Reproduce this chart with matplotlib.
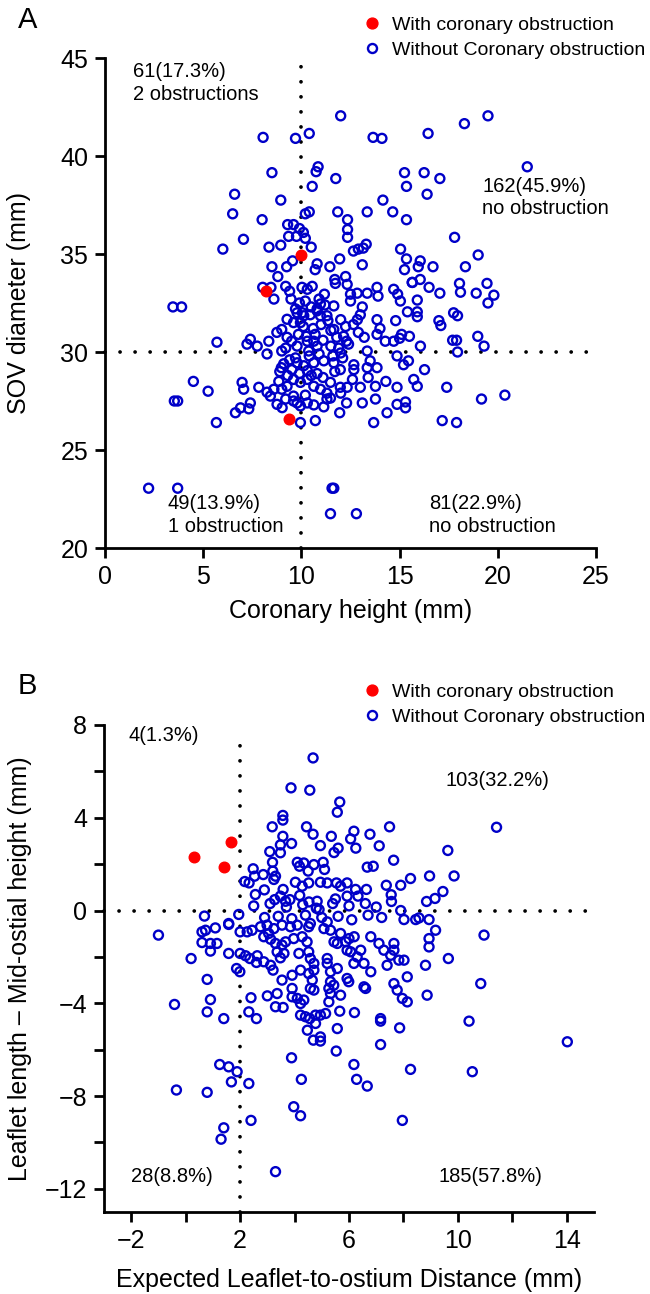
import matplotlib
matplotlib.use("Agg")
import matplotlib.pyplot as plt
from matplotlib.lines import Line2D
from matplotlib.ticker import MultipleLocator

plt.rcParams['font.family'] = ['Liberation Sans', 'DejaVu Sans']

# ---------------- Panel A data ----------------
a_without_x = [
    12.0, 19.5, 18.3, 8.05, 9.7, 10.4, 13.65, 14.1, 16.45, 21.5, 8.5, 10.85, 10.75, 11.75, 15.25, 16.25, 17.05,
    10.55, 15.35, 6.6, 16.4, 8.95, 14.15, 6.5, 10.2, 10.4, 11.85, 13.35, 14.65, 8.0, 12.35, 15.35, 17.8, 12.35,
    12.35, 9.3, 9.6, 9.9, 10.1, 9.35, 9.75, 10.2, 7.05, 6.0, 8.35, 8.95, 10.5, 12.65, 12.9, 13.15, 13.3, 15.05,
    19.0, 9.55, 11.95, 13.1, 15.35, 16.05, 8.5, 9.25, 10.8, 10.7, 11.45, 15.95, 16.7, 15.25, 18.35, 8.8, 12.25,
    11.7, 15.65, 16.05, 18.05, 19.45,
    8.03, 8.45, 8.6, 9.2, 9.4, 9.47, 10.03, 10.3, 10.55, 11.17, 11.73, 12.33, 12.5, 12.84, 13.35, 13.85, 13.9,
    14.7, 14.9, 15.04, 15.64, 15.9, 16.5, 17.05, 18.1, 18.9, 19.5, 19.8, 3.46, 3.9, 17.75, 17.95, 17.0, 17.1,
    17.7, 17.9, 18.98, 19.3, 17.95, 16.06, 15.5, 15.9, 15.9, 15.4, 14.8, 13.85, 13.85, 14.27, 14.7, 15.1, 15.0,
    13.2, 13.35, 12.85, 13.0, 12.65, 12.15, 12.3, 11.65, 11.8, 11.5, 12.0, 10.97, 11.3, 10.8, 10.97, 11.65,
    12.0, 12.25, 9.78, 10.12, 9.95, 9.6, 9.27, 9.0, 8.75, 9.27, 9.5, 9.78, 10.3, 10.63, 10.8, 10.37, 8.34, 8.25,
    7.75, 7.4, 7.23, 9.0, 9.2, 5.7, 4.5, 5.25, 6.98, 7.06, 7.83, 8.25, 8.6, 8.85, 9.0, 9.27, 9.78, 9.52, 10.12,
    10.3, 10.63, 11.14, 11.65, 11.98, 12.67, 12.67, 13.35, 13.5, 13.85, 8.98, 14.87, 15.2, 15.45, 16.27, 9.6,
    9.95, 10.3, 10.63, 10.97, 11.48, 11.98, 12.33, 13.0, 13.77, 14.87, 15.72, 15.9, 17.4, 19.17, 20.36, 3.53,
    3.7, 6.64, 6.9, 7.4, 7.32, 8.42, 8.76, 9.02, 9.2, 9.6, 9.78, 9.95, 10.3, 10.63, 11.3, 11.14, 11.48, 11.95,
    12.3, 13.1, 13.77, 14.36, 14.87, 15.3, 15.3, 13.68, 17.17, 17.9, 5.67, 9.95, 10.71, 2.22, 3.7, 11.56, 11.65,
    11.48, 12.8,
    9.9, 10.2, 10.5, 10.9, 11.2, 9.7, 10.05, 10.45, 10.8, 11.35, 10.1, 10.6, 11.0, 11.5, 9.85, 10.25, 10.7,
    11.1, 9.7, 10.4, 11.9, 12.4, 12.1, 11.6, 10.9, 9.4, 9.1, 8.9, 9.9, 10.5, 11.1, 12.6, 13.4, 14.3, 12.0,
    11.3, 10.2, 9.6, 9.3, 10.8, 11.7, 12.9, 14.0, 13.1, 12.5,
]
a_without_y = [
    42.05, 42.05, 41.65, 40.95, 40.9, 41.15, 40.95, 40.9, 41.15, 39.45, 39.15, 39.45, 39.2, 38.85, 39.15, 39.15,
    38.85, 38.45, 38.45, 38.05, 38.05, 37.75, 37.75, 37.05, 37.05, 37.15, 37.15, 37.15, 37.15, 36.75, 36.75,
    36.75, 35.85, 36.25, 35.85, 36.5, 36.5, 36.3, 36.1, 35.9, 35.9, 35.8, 35.75, 35.25, 35.35, 35.45, 35.35,
    35.15, 35.25, 35.3, 35.5, 35.25, 34.95, 34.65, 34.75, 34.45, 34.75, 34.65, 34.35, 34.35, 34.5, 34.2, 34.35,
    34.35, 34.35, 34.2, 34.35, 33.85, 33.85, 33.7, 33.55, 33.7, 33.5, 33.5,
    33.3, 33.3, 32.7, 33.35, 33.1, 32.7, 33.3, 33.2, 33.35, 32.95, 33.5, 33.45, 32.95, 33.0, 33.0, 33.3, 32.85,
    33.2, 32.95, 32.6, 33.55, 32.65, 33.3, 33.0, 33.05, 33.0, 32.5, 32.9, 32.3, 32.3, 32.0, 31.85, 31.6, 31.35,
    30.6, 30.6, 30.8, 30.3, 30.0, 30.3, 30.8, 32.05, 31.8, 32.05, 31.6, 31.65, 30.9, 30.55, 30.55, 30.9, 30.7,
    30.75, 30.05, 31.65, 31.9, 31.4, 30.8, 30.55, 31.15, 30.75, 30.3, 29.95, 31.85, 31.85, 32.2, 32.45, 32.35,
    31.65, 31.3, 32.0, 31.85, 31.5, 31.5, 31.67, 31.15, 31.0, 30.75, 30.55, 30.3, 30.55, 30.55, 30.3, 30.05,
    30.55, 29.9, 30.3, 30.65, 30.4, 30.05, 30.2, 30.5, 28.5, 28.0, 28.45, 28.1, 28.2, 27.95, 28.1, 28.5, 28.1,
    28.25, 29.45, 29.1, 29.3, 29.05, 29.45, 29.55, 29.45, 29.1, 29.35, 29.1, 29.2, 29.55, 29.2, 29.2, 29.8,
    29.35, 29.55, 29.1, 28.6, 28.45, 28.6, 28.25, 28.1, 28.45, 28.2, 28.2, 28.2, 28.25, 28.2, 28.6, 28.25,
    28.2, 27.6, 27.8, 27.5, 27.5, 26.9, 27.15, 27.4, 27.1, 27.75, 27.33, 27.16, 27.6, 27.75, 27.4, 27.25,
    27.4, 27.3, 27.6, 27.2, 27.65, 26.9, 27.4, 27.4, 27.6, 26.9, 27.33, 27.45, 27.15, 26.4, 26.5, 26.4, 26.4,
    26.4, 26.5, 23.05, 23.05, 23.05, 23.05, 21.75, 21.75,
    32.5, 32.6, 32.3, 32.7, 32.4, 32.2, 32.0, 31.9, 32.1, 31.6, 31.3, 31.2, 31.4, 31.1, 30.9, 30.8, 30.9,
    30.6, 29.7, 29.8, 30.2, 30.4, 29.7, 29.8, 29.9, 29.6, 29.4, 29.0, 28.9, 28.8, 28.7, 28.6, 28.7, 28.5, 27.9,
    27.9, 27.8, 27.5, 28.8, 28.9, 29.0, 31.0, 31.2, 32.3, 32.6,
]
a_with_x = [10.0, 8.2, 9.35]
a_with_y = [34.95, 33.1, 26.56]

# ---------------- Panel B data ----------------
b_without_x = [
    4.68, 3.87, 4.56, 5.66, 5.57, 3.57, 3.57, 3.18, 4.44, 4.68, 3.57, 3.89, 3.48, 3.48, 3.09, 4.95, 5.35, 6.18,
    6.06, 5.45, 5.6, 6.25, 6.77, 7.11, 7.49, 7.64, 11.42, 9.63, 9.86, 8.26, 8.96, 9.45, 9.16, 8.85, 7.9, 7.37,
    7.55, 7.56, 6.67, 6.89, 3.19, 3.2, 2.48, 2.53, 2.85, 2.17, 2.33, 2.56, 2.89, 3.24, 3.3, 3.58, 3.48, 3.83,
    3.27, 3.67, 4.1, 4.34, 4.18, 4.5, 4.71, 5.05, 5.1, 4.03, 4.28, 4.52, 4.95, 5.2, 5.54, 5.69, 5.93, 6.24,
    6.64, 6.33, 5.93, 5.5, 4.83, 4.9, 4.53, 4.19, 1.58, 0.69, 1.95, 7.9, 8.02, 8.45, 8.57, 8.94,
    -1.0, 0.2, -0.41, -0.34, 0.79, 0.91, 0.79, 0.79, 0.6, 0.73, 1.09, 0.6, 0.91, 1.15, 0.91, 1.58, 1.58, 1.4,
    1.25, 1.58, 1.89, 1.68, 2.32, 1.4, 1.3, 2.4, 3.3, 1.87, 1.99, 2.0, 2.2, 2.36, 2.63, 2.6, 2.87, 3.12, 3.21,
    2.4, 2.32, 2.6, 3.0, 3.36, 3.3, 3.58, 2.0, 2.26, 2.44, 2.75, 2.99, 3.24, 3.54, 3.85, 4.1, 4.52, 4.58, 2.87,
    3.12, 3.3, 3.54, 3.05, 3.67, 3.97, 4.46, 4.28, 3.36, 3.61, 3.48, 4.16, 4.52, 4.58, 4.71, 3.91, 4.22, 4.52,
    4.71, 3.54, 4.65, 3.91, 3.91, 4.1, 4.22, 4.34, 4.58, 4.71, 4.22, 4.4, 4.56, 4.77, 4.95, 4.77, 4.47, 4.69,
    4.95, 4.95, 5.2, 5.2, 5.32, 5.57, 5.32, 5.44, 5.26, 5.32, 5.69, 5.26, 5.14, 5.57, 5.66, 6.2, 5.53, 5.08,
    5.32, 5.2, 5.69, 5.45, 5.57, 5.88, 6.0, 6.19, 5.93, 6.06, 6.43, 6.3, 6.18, 6.55, 5.93, 5.99, 6.55, 6.61,
    6.8, 6.8, 7.1, 7.28, 7.4, 7.53, 7.65, 7.65, 7.83, 8.02, 8.14, 7.65, 7.77, 7.96, 8.14, 8.81, 8.87, 8.94,
    8.94, 9.18, 7.16, 7.16, 7.16, 7.86, 6.18, 6.28, 6.67, 8.26, 7.96, 3.89, 4.25, 3.97, 4.22, 9.65, 10.84,
    10.41, 10.53, 10.96, 14.02,
    2.9, 3.4, 3.9, 4.4, 5.0, 5.6, 6.1, 6.7, 7.2, 2.5, 3.1, 3.7, 4.3, 4.8, 5.4, 6.0, 6.6, 7.0,
]
b_without_y = [
    6.58, 5.29, 5.19, 4.68, 4.24, 4.1, 3.9, 3.61, 3.61, 3.29, 3.2, 2.89, 2.83, 2.49, 2.54, 2.8, 3.2, 3.42, 3.09,
    2.5, 2.69, 2.69, 3.29, 2.79, 3.61, 2.17, 3.59, 2.59, 1.49, 1.38, 1.49, 0.82, 0.52, 0.39, 1.09, 1.09, 0.68,
    0.39, 1.87, 1.91, 2.08, 1.7, 1.8, 1.48, 1.55, 1.25, 1.19, 0.69, 0.89, 1.34, 1.48, 0.91, 0.62, 0.47, 0.47,
    0.4, 2.08, 2.05, 1.91, 1.7, 1.98, 2.08, 1.77, 1.22, 1.05, 1.19, 1.22, 1.19, 1.19, 1.05, 1.19, 0.91, 0.91,
    0.62, 0.62, 0.5, 0.4, 0.04, 0.37, 0.65, -0.6, -0.24, -0.17, 0.0, -0.39, -0.39, -0.32, -0.39,
    -1.06, -2.07, -4.05, -7.74, -2.97, -3.84, -4.37, -7.84, -0.92, -0.85, -0.75, -1.38, -1.42, -1.42, -1.75,
    -0.56, -1.85, -4.66, -6.64, -6.74, -6.95, -7.39, -7.46, -9.37, -9.86, -9.05, -11.26, -2.5, -2.64, -1.85,
    -1.95, -2.07, -1.95, -2.24, -2.21, -2.36, -2.57, -3.76, -4.37, -4.66, -3.68, -3.58, -4.15, -4.18, -0.92,
    -0.92, -0.85, -0.7, -0.63, -0.78, -0.63, -0.7, -0.63, -0.7, -0.56, -1.13, -1.24, -1.42, -1.49, -0.99,
    -1.35, -1.21, -1.35, -1.13, -1.78, -1.85, -2.04, -1.85, -1.78, -2.07, -2.28, -2.79, -2.57, -2.72, -2.57,
    -3.0, -3.0, -3.36, -3.72, -3.79, -4.01, -3.86, -3.36, -3.43, -4.51, -4.58, -4.66, -4.51, -4.51, -4.87,
    -5.16, -5.59, -5.45, -5.63, -2.07, -2.28, -2.64, -2.5, -3.07, -3.22, -3.36, -3.58, -3.65, -3.94, -4.44,
    -5.09, -4.34, -4.4, -6.06, -0.78, -0.85, -0.49, -0.99, -1.35, -1.42, -1.35, -1.21, -1.13, -1.71, -1.78,
    -1.71, -2.0, -2.28, -2.28, -2.93, -3.07, -3.29, -3.36, -2.64, -1.13, -1.42, -1.71, -2.36, -1.93, -1.71,
    -1.42, -2.14, -2.14, -2.86, -3.15, -3.43, -3.79, -3.94, -2.36, -3.65, -1.21, -1.57, -0.85, -4.66, -4.77,
    -5.78, -5.06, -6.64, -7.28, -7.57, -6.85, -9.05, -6.35, -7.28, -8.46, -8.85, -2.07, -3.15, -4.77, -6.95,
    -1.06, -5.66,
    -0.3, -0.25, -0.35, -0.2, -0.3, -0.25, -0.4, -0.2, -0.3, 0.2, 0.3, 0.15, 0.25, 0.1, 0.3, 0.2, 0.3, 0.15,
]
b_with_x = [0.32, 1.4, 1.65]
b_with_y = [2.3, 1.88, 2.97]

BLUE = '#0000C8'
RED = '#FF0000'
TICK_FS = 18
LABEL_FS = 18
ANN_FS = 14.5
LEG_FS = 14
S_OPEN = 42
LW_OPEN = 1.7

W, H = 650, 1294
fig = plt.figure(figsize=(W / 100, H / 100), dpi=100)


def px_box(l, r, t, b):
    return [l / W, 1 - b / H, (r - l) / W, (b - t) / H]


def style_axes(ax):
    for s in ('top', 'right'):
        ax.spines[s].set_visible(False)
    for s in ('left', 'bottom'):
        ax.spines[s].set_linewidth(2.0)
    ax.tick_params(which='both', direction='out', length=7, width=2.0, labelsize=TICK_FS, pad=5)


def dotted(ax, xs, ys):
    ax.plot(xs, ys, color='black', lw=2.7, linestyle=(0, (0.01, 4.0)),
            dash_capstyle='round', zorder=1, clip_on=False)


def legend(ax, ycenter_px):
    handles = [
        Line2D([], [], marker='o', ls='none', markersize=7.8, markerfacecolor=RED, markeredgecolor=RED),
        Line2D([], [], marker='o', ls='none', markersize=6.5, markerfacecolor='none',
               markeredgecolor=BLUE, markeredgewidth=LW_OPEN),
    ]
    ax.legend(handles, ['With coronary obstruction', 'Without Coronary obstruction'],
              loc='center left', bbox_to_anchor=(362 / W, 1 - ycenter_px / H),
              bbox_transform=fig.transFigure, frameon=False, fontsize=LEG_FS,
              handlelength=1.0, handletextpad=0.55, labelspacing=0.35,
              borderpad=0, borderaxespad=0)


# ---------------- Panel A ----------------
axA = fig.add_axes(px_box(105, 596, 58, 548))
style_axes(axA)
axA.set_xlim(0, 25)
axA.set_ylim(20, 45)
axA.xaxis.set_major_locator(MultipleLocator(5))
axA.yaxis.set_major_locator(MultipleLocator(5))
dotted(axA, [10, 10], [20, 44.6])
dotted(axA, [0, 25], [30, 30])
axA.scatter(a_without_x, a_without_y, s=S_OPEN, facecolors='none', edgecolors=BLUE, linewidths=LW_OPEN, zorder=3)
axA.scatter(a_with_x, a_with_y, s=58, color=RED, zorder=4)
axA.set_xlabel('Coronary height (mm)', fontsize=LABEL_FS)
axA.set_ylabel('SOV diameter (mm)', fontsize=LABEL_FS)
axA.xaxis.set_label_coords(0.5, -0.105)
axA.yaxis.set_label_coords(-0.15, 0.5)
axA.text(1.43, 44.8, '61(17.3%)\n2 obstructions', fontsize=ANN_FS, va='top', ha='left', linespacing=1.25)
axA.text(19.2, 38.95, '162(45.9%)\nno obstruction', fontsize=ANN_FS, va='top', ha='left', linespacing=1.25)
axA.text(3.2, 22.75, '49(13.9%)\n1 obstruction', fontsize=ANN_FS, va='top', ha='left', linespacing=1.25)
axA.text(16.5, 22.75, '81(22.9%)\nno obstruction', fontsize=ANN_FS, va='top', ha='left', linespacing=1.25)
legend(axA, 37.5)
fig.text(18 / W, 1 - 20 / H, 'A', fontsize=21, va='center', ha='left')

# ---------------- Panel B ----------------
axB = fig.add_axes(px_box(104, 594, 725, 1212))
style_axes(axB)
axB.set_xlim(-3, 15)
axB.set_ylim(-13, 8)
axB.set_xticks([-2, 2, 6, 10, 14])
axB.set_xticks([0, 4, 8, 12], minor=True)
axB.set_yticks([-12, -8, -4, 0, 4, 8])
axB.set_yticks([-10, -6, -2, 2, 6], minor=True)
dotted(axB, [2, 2], [-13, 7.6])
dotted(axB, [-3, 15], [0, 0])
axB.scatter(b_without_x, b_without_y, s=S_OPEN, facecolors='none', edgecolors=BLUE, linewidths=LW_OPEN, zorder=3)
axB.scatter(b_with_x, b_with_y, s=58, color=RED, zorder=4)
axB.set_xlabel('Expected Leaflet-to-ostium Distance (mm)', fontsize=LABEL_FS)
axB.set_ylabel('Leaflet length \u2013 Mid-ostial height (mm)', fontsize=LABEL_FS)
axB.xaxis.set_label_coords(0.5, -0.115)
axB.yaxis.set_label_coords(-0.147, 0.5)
axB.text(-2.1, 7.55, '4(1.3%)', fontsize=ANN_FS, va='center', ha='left')
axB.text(9.55, 5.6, '103(32.2%)', fontsize=ANN_FS, va='center', ha='left')
axB.text(-2.0, -11.45, '28(8.8%)', fontsize=ANN_FS, va='center', ha='left')
axB.text(9.3, -11.45, '185(57.8%)', fontsize=ANN_FS, va='center', ha='left')
legend(axB, 704.5)
fig.text(18 / W, 1 - 686 / H, 'B', fontsize=21, va='center', ha='left')

fig.savefig('out.png', dpi=100)
